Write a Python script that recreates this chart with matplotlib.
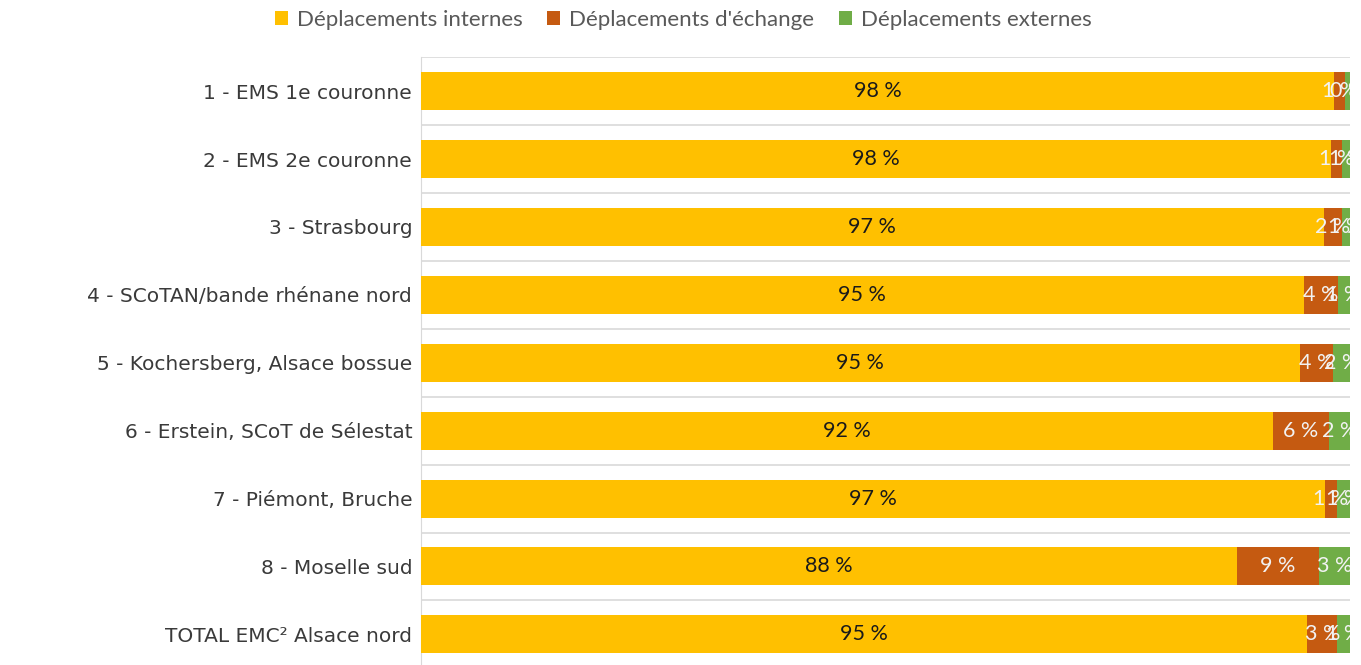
import numpy as np
import matplotlib.pyplot as plt

categories = ['1 - EMS 1e couronne', '2 - EMS 2e couronne', '3 - Strasbourg',
              '4 - SCoTAN/bande rhénane nord', '5 - Kochersberg, Alsace bossue',
              '6 - Erstein, SCoT de Sélestat', '7 - Piémont, Bruche',
              '8 - Moselle sud', 'TOTAL EMC² Alsace nord']
internes = [98.3, 97.9, 97.2, 95.0, 94.6, 91.7, 97.3, 87.8, 95.4]
echange = [1.2, 1.2, 1.9, 3.7, 3.6, 6.0, 1.3, 8.8, 3.2]
externes = [0.5, 1.0, 0.9, 1.3, 1.8, 2.3, 1.4, 3.4, 1.4]

series = [('Déplacements internes', internes, '#FFC000', '#1a1a1a'),
          ("Déplacements d'échange", echange, '#C55A11', '#f2f2f2'),
          ('Déplacements externes', externes, '#70AD47', '#f2f2f2')]

fig = plt.figure(figsize=(13.61, 6.65), dpi=100)
ax = fig.add_axes([0.309, -0.005, 0.683, 0.919])

y = np.arange(len(categories))
left = np.zeros(len(categories))
for name, vals, color, tcolor in series:
    vals = np.array(vals)
    ax.barh(y, vals, left=left, height=0.56, color=color, label=name, zorder=3)
    for yi, l, v in zip(y, left, vals):
        # small segments: labels overlap and get cut at the plot edge, as in the original
        ax.text(l + v / 2, yi, f'{round(v):.0f} %', ha='center', va='center',
                color=tcolor, fontsize=15.5, family='Lato', zorder=4, clip_on=True)
    left += vals

ax.set_xlim(0, 100)
ax.set_ylim(len(categories) - 0.5, -0.5)
ax.set_yticks(y)
ax.set_yticklabels(categories, fontsize=14.5, color='#3a3a3a', family='DejaVu Sans')
ax.set_xticks([])
for b in np.arange(-0.5, len(categories), 1):
    ax.axhline(b, color='#d9d9d9', lw=1.2, zorder=1)
ax.tick_params(axis='y', length=0, pad=6)
for s in ['top', 'right', 'bottom']:
    ax.spines[s].set_visible(False)
ax.spines['left'].set_color('#d9d9d9')

fig.legend(loc='upper center', bbox_to_anchor=(0.502, 1.015), ncol=3, frameon=False,
           prop={'family': 'Lato', 'size': 16}, labelcolor='#595959',
           handlelength=0.6, handleheight=0.6, handletextpad=0.4, columnspacing=1.1)

fig.savefig('out.png', dpi=100)
